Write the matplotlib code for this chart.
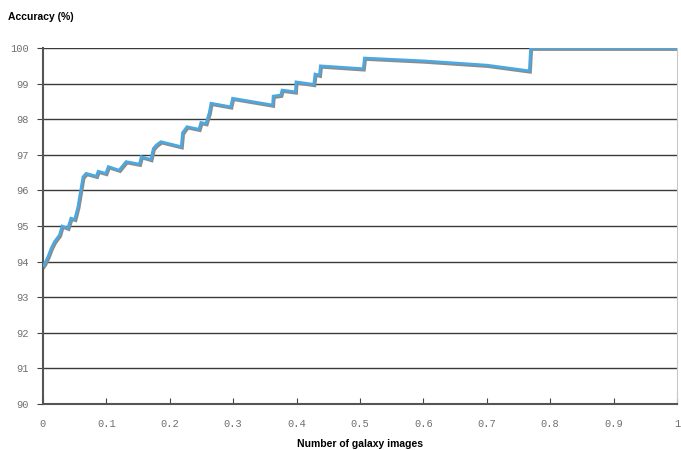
import matplotlib.pyplot as plt
import matplotlib.transforms as mtransforms

# courbe
frac = [0.0, 0.0027, 0.0078, 0.013, 0.018, 0.026, 0.030, 0.039, 0.044, 0.050,
        0.055, 0.063, 0.068, 0.084, 0.087, 0.099, 0.103, 0.120, 0.131, 0.152,
        0.155, 0.170, 0.174, 0.179, 0.186, 0.218, 0.220, 0.227, 0.246, 0.249,
        0.257, 0.262, 0.265, 0.296, 0.299, 0.362, 0.363, 0.375, 0.377, 0.398,
        0.399, 0.427, 0.429, 0.436, 0.4375, 0.505, 0.507, 0.60, 0.70, 0.767,
        0.769, 1.0]
accuracy = [93.88, 93.95, 94.14, 94.38, 94.56, 94.75, 95.0, 94.94, 95.22, 95.19,
            95.54, 96.38, 96.48, 96.40, 96.54, 96.48, 96.67, 96.57, 96.81, 96.74,
            96.95, 96.87, 97.18, 97.28, 97.37, 97.23, 97.62, 97.79, 97.72, 97.91,
            97.88, 98.17, 98.45, 98.35, 98.59, 98.40, 98.65, 98.68, 98.82, 98.77,
            99.05, 98.98, 99.27, 99.24, 99.50, 99.42, 99.72, 99.64, 99.52, 99.36,
            100.0, 100.0]

xticks = [0, 0.1, 0.2, 0.3, 0.4, 0.5, 0.6, 0.7, 0.8, 0.9, 1]
xticklabels = ["0", "0.1", "0.2", "0.3", "0.4", "0.5", "0.6", "0.7", "0.8", "0.9", "1"]
yticks = list(range(90, 101))

fig = plt.figure(figsize=(6.81, 4.5), dpi=100)
ax = fig.add_axes([0.0631, 0.1022, 0.9310, 0.7911])

for y in yticks:
    ax.axhline(y, color="#3a3a3a", lw=1, zorder=1)

shadow = mtransforms.offset_copy(ax.transData, fig=fig, x=1.2, y=-1.5, units="dots")
ax.plot(frac, accuracy, color="#8c8c8c", lw=2.0, transform=shadow, zorder=2,
        solid_joinstyle="miter")
ax.plot(frac, accuracy, color="#4aa9e2", lw=1.9, zorder=3, solid_joinstyle="miter")

ax.set_xlim(0, 1)
ax.set_ylim(90, 100)
ax.set_xticks(xticks)
ax.set_xticklabels(xticklabels)
ax.set_yticks(yticks)

for lab in ax.get_xticklabels() + ax.get_yticklabels():
    lab.set_family("Liberation Mono")
    lab.set_fontsize(7.5)
    lab.set_color("#707070")

ax.tick_params(axis="x", direction="in", length=4, color="#444444", pad=11)
ax.tick_params(axis="y", direction="out", length=4, color="#444444", pad=6)

ax.spines["top"].set_visible(False)
ax.spines["right"].set_color("#c8c8c8")
ax.spines["left"].set_color("#555555")
ax.spines["bottom"].set_color("#555555")
ax.spines["left"].set_linewidth(1.5)
ax.spines["bottom"].set_linewidth(1.5)

ax.set_xlabel("Number of galaxy images", family="Liberation Sans", fontweight="bold",
              fontsize=7.5, labelpad=7)
fig.text(0.012, 0.962, "Accuracy (%)", family="Liberation Sans", fontweight="bold",
         fontsize=7.5, ha="left", va="center")

fig.savefig("out.png", dpi=100)
